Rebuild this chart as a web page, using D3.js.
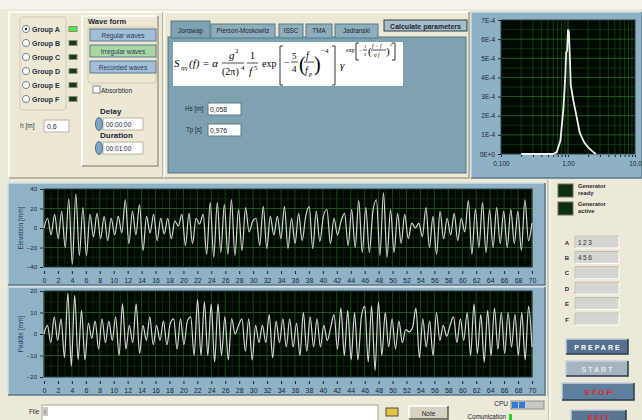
<!DOCTYPE html>
<html>
<head>
<meta charset="utf-8">
<title>Wave generator panel</title>
<script src="https://cdn.jsdelivr.net/npm/d3@7"></script>
<style>
  body { margin: 0; background: #ece9d8; overflow: hidden; }
  svg text { font-family: "Liberation Sans", Arial, sans-serif; }
</style>
</head>
<body>
<div id="panel"></div>
<script>
// values
var groups = ["Group A", "Group B", "Group C", "Group D", "Group E", "Group F"];
var groupLed = [1, 0, 0, 0, 0, 0];
var waveForms = ["Regular waves", "Irregular waves", "Recorded waves"];
var waveFormOn = [0, 1, 0];
var tabs = ["Jonswap", "Pierson-Moskowitz", "ISSC", "TMA", "Jadranski"];
var depth = "0,6", delay = "00:00:00", duration = "00:01:00";
var hs = "0,058", tp = "0,976";

// spectrum (f in Hz, S in 1E-4)
var specFreq = [0.2, 0.4, 0.6, 0.68, 0.77, 0.85, 0.91, 0.94, 0.97, 1.0, 1.03, 1.06, 1.1, 1.2, 1.3, 1.5, 1.75, 2.0, 2.3, 2.6];
var specVal = [0, 0, 0, 0.1, 0.7, 2.3, 4.0, 5.3, 5.4, 6.5, 6.4, 5.3, 3.6, 2.8, 2.2, 1.1, 0.6, 0.35, 0.15, 0];
var specYTicks = [0, 1, 2, 3, 4, 5, 6, 7];
var specYLabels = ["0E+0", "1E-4", "2E-4", "3E-4", "4E-4", "5E-4", "6E-4", "7E-4"];
var specXTicks = [0.1, 1, 10];
var specXLabels = ["0,100", "1,00", "10,0"];

// time series (mm), evenly spread over 0..70 s
var timeTicks = [0, 2, 4, 6, 8, 10, 12, 14, 16, 18, 20, 22, 24, 26, 28, 30, 32, 34, 36, 38, 40, 42, 44, 46, 48, 50, 52, 54, 56, 58, 60, 62, 64, 66, 68, 70];
var elevTicks = [-40, -20, 0, 20, 40];
var paddleTicks = [-20, -10, 0, 10, 20];
var elevation = [0, 10, -7, 14, -11, 17, -20, 30, -37, 35, -28, 21, -28, 14, -9, 15, -11, 12, -13, 10,
  -7, 12, -5, 29, -16, 17, -7, 24, -23, 12, -5, 14, -13, 10, -6, 10, -11, 7, 2, 14,
  -18, 15, -16, 10, 4, 14, -27, 26, -30, 26, -25, 24, -27, 29, -28, 19, -23, 21, -4, 7,
  10, -18, 22, -21, 12, -7, 12, -11, 22, -21, 10,
  -16, 15, -13, 12, 22, -21, 17, -14, 12, 19, -16, 10, -7, 7, 15, -18, 19, -20, 28,
  -25, 21, -25, 17, 29, -28, 36, -30, 19, -25, 15, -16, 14, -11, 5, 0, 5, -9, 21, -20,
  12, -27, 17, -11, 10, -7, 15, -13, 10, -4, 28, -27, 19, -20, 26, -25, 19, -20, 21, -16,
  17, -20, 19, -16, 17, -23, 29, -13, 5];
var paddle = [0, 4, -4, 8, -3, 7, -11, 19, -15, 18, -12, 11, -12, 5, -2, 6, -7, 7, -4, 6,
  -3, 8, -10, 14, -7, 4, -4, 14, -9, 4, -3, 8, -5, 4, -3, 6, -5, 5, 7, -7,
  7, -5, 6, 8, -10, 16, -10, 15, -10, 14, -13, 14, -10, 8, -12, 7, 0, 4, 7, -8,
  7, -12, 4, -4, 4, -4, 9, -11, 6, -4,
  7, -6, 7, -6, 5, -10, 10, -8, 8, -6, 7, -6, 4, -3, 3, 9, -7, 12, -10, 11,
  -12, 10, -12, 8, 13, -13, 13, -17, 15, -10, 10, -6, 7, -7, 6, -4, 2, 1, 3, 12,
  -11, 7, -6, 6, -10, 10, -3, 4, -1, 4, 8, -4, 7, -3, 10, -10, 14, -9, 9, -13,
  11, -10, 12, -7, 10, -9, 10, -6, 9, -10, 10, -12, 13, -6];

var channels = ["A", "B", "C", "D", "E", "F"];
var channelValues = ["123", "456", "", "", "", ""];
var buttons = ["PREPARE", "START", "STOP", "EXIT"];

var W = 642, H = 420;
var svg = d3.select("#panel").append("svg").attr("width", W).attr("height", H);

function box(x, y, w, h, fill, stroke) {
  return svg.append("rect").attr("x", x).attr("y", y).attr("width", w).attr("height", h)
    .attr("fill", fill).attr("stroke", stroke || "none");
}
// 3d-ish frame: light edge top/left, dark edge bottom/right
function frame(x, y, w, h, fill, light, dark) {
  box(x, y, w, h, fill);
  svg.append("path").attr("d", "M" + x + "," + (y + h) + "V" + y + "H" + (x + w))
    .attr("fill", "none").attr("stroke", light).attr("stroke-width", 1.5);
  svg.append("path").attr("d", "M" + (x + w) + "," + y + "V" + (y + h) + "H" + x)
    .attr("fill", "none").attr("stroke", dark).attr("stroke-width", 1.5);
}
function txt(s, x, y, size, opt) {
  opt = opt || {};
  var t = svg.append("text").attr("x", x).attr("y", y).text(s)
    .attr("font-size", size).attr("fill", opt.fill || "#1c2434");
  if (opt.bold) t.attr("font-weight", "bold");
  if (opt.anchor) t.attr("text-anchor", opt.anchor);
  if (opt.family) t.style("font-family", opt.family);
  if (opt.italic) t.attr("font-style", "italic");
  if (opt.spacing) t.attr("letter-spacing", opt.spacing);
  return t;
}

// background
box(0, 0, W, H, "#ece9d8");
box(0, 0, W, 9, "#f5f3ea");

// ---------- top left: groups ----------
frame(9, 12, 154, 166, "#ece8d4", "#ffffff", "#a8a490");
svg.append("rect").attr("x", 20).attr("y", 17).attr("width", 46).attr("height", 93).attr("rx", 3)
  .attr("fill", "none").attr("stroke", "#cfcab4");
groups.forEach(function(g, i) {
  var cy = 29 + i * 14;
  svg.append("circle").attr("cx", 26).attr("cy", cy).attr("r", 3.6)
    .attr("fill", "#f8f8f4").attr("stroke", "#6c86a0");
  if (i === 0) svg.append("circle").attr("cx", 26).attr("cy", cy).attr("r", 1.2).attr("fill", "#203050");
  txt(g, 32, cy + 2.5, 7, { bold: true, fill: "#283040" });
  box(69, cy - 2.5, 8, 5, groupLed[i] ? "#4ee84e" : "#123e12", "#8a8a78");
});
txt("h [m]", 20, 128, 6.5, { fill: "#283040" });
box(44, 120, 25, 12, "#ffffff", "#b8b4a0");
txt(depth, 47, 129, 7);

// wave form block
frame(82, 16, 76, 150, "#ece8d4", "#ffffff", "#9e9a86");
txt("Wave form", 88, 24, 7.5, { bold: true });
svg.append("rect").attr("x", 88).attr("y", 27).attr("width", 68).attr("height", 56).attr("rx", 3)
  .attr("fill", "none").attr("stroke", "#cfcab4");
waveForms.forEach(function(w, i) {
  var y = 29 + i * 16;
  box(90, y, 66, 12, waveFormOn[i] ? "#a9d6a2" : "#a3bfd6", "#607890");
  txt(w, 123, y + 8.5, 6.5, { anchor: "middle", fill: "#2a3a60" });
});
box(93, 86, 7, 7, "#ffffff", "#7a8aa0");
txt("Absorbtion", 101, 92.5, 6.5);
txt("Delay", 100, 114, 8, { bold: true });
txt("Duration", 100, 138, 8, { bold: true });
[delay, duration].forEach(function(v, i) {
  var y = 118 + i * 24;
  box(103, y, 40, 12, "#ffffff", "#b8b4a0");
  svg.append("ellipse").attr("cx", 99).attr("cy", y + 6).attr("rx", 3.5).attr("ry", 6.5)
    .attr("fill", "#7fa6c8").attr("stroke", "#4a6a8a");
  txt(v, 106, y + 9, 6.5);
});

// ---------- tab control with formula ----------
frame(164, 12, 305, 166, "#ece8d4", "#ffffff", "#a8a490");
box(168, 37, 298, 136, "#7fa2b1", "#56788a");
var tabGeo = [[171, 39], [211, 64], [279, 24], [306, 26], [335, 43]];
tabs.forEach(function(t, i) {
  var sel = i === 0;
  box(tabGeo[i][0], sel ? 21 : 24, tabGeo[i][1], sel ? 17 : 14, sel ? "#7fa2b1" : "#8eaebb", "#56788a");
  txt(t, tabGeo[i][0] + tabGeo[i][1] / 2, 33, 6.3, { anchor: "middle", fill: "#1c2434" });
});
box(384, 20, 83, 11, "#a7bdc9", "#2c3c4c");
txt("Calculate parameters", 425.5, 28.5, 7, { bold: true, anchor: "middle" });

// formula
box(173, 42, 230, 44, "#ffffff");
var serif = "'Liberation Serif', 'DejaVu Serif', serif";
function ftxt(s, x, y, size, it) { return txt(s, x, y, size, { family: serif, italic: it, fill: "#000" }); }
function fline(x1, x2, y) {
  svg.append("line").attr("x1", x1).attr("x2", x2).attr("y1", y).attr("y2", y).attr("stroke", "#000").attr("stroke-width", 0.7);
}
function bracket(x, y1, y2, dir) {
  svg.append("path").attr("d", "M" + (x + 3 * dir) + "," + y1 + "H" + x + "V" + y2 + "H" + (x + 3 * dir))
    .attr("fill", "none").attr("stroke", "#000").attr("stroke-width", 0.8);
}
ftxt("S", 174, 67, 11, true);
ftxt("ηη", 181, 70, 6.5, true);
ftxt("(f) = α", 189, 67, 11, true);
ftxt("g", 229, 59, 11, true); ftxt("2", 235, 53, 7, false);
fline(222, 244, 63);
ftxt("(2π)", 222, 75, 10, false); ftxt("4", 241, 70, 7, false);
ftxt("1", 250, 59, 10, false);
fline(247, 258, 63);
ftxt("f", 249, 75, 11, true); ftxt("5", 254, 70, 7, false);
ftxt("exp", 262, 67, 10, false);
bracket(280, 46, 85, 1);
ftxt("−", 284, 66, 10, false);
ftxt("5", 292, 59, 9, false); fline(291, 298, 62); ftxt("4", 292, 72, 9, false);
ftxt("(", 299, 71, 20, false);
ftxt("f", 306, 59, 10, true); fline(304, 314, 62); ftxt("f", 305, 74, 10, true); ftxt("p", 309, 76, 6, true);
ftxt(")", 314, 71, 20, false);
ftxt("−4", 321, 53, 7, false);
bracket(335, 46, 85, -1);
ftxt("γ", 340, 69, 11, true);
ftxt("exp", 346, 52, 6, false);
bracket(356, 43, 60, 1);
ftxt("−", 359, 52, 6, false);
ftxt("1", 364, 48, 5, false); fline(363, 367, 50); ftxt("2", 364, 56, 5, false);
ftxt("(", 368, 55, 11, false);
ftxt("f − f", 372, 48, 5.5, true); fline(371, 386, 50); ftxt("σ f", 374, 57, 5.5, true);
ftxt(")", 386, 55, 11, false);
ftxt("2", 390, 46, 5, false);
bracket(395, 43, 60, -1);

txt("Hs [m]", 185, 111, 6.3);
box(208, 103, 33, 12, "#ffffff", "#5a7a8a");
txt(hs, 210, 112, 6.8);
txt("Tp [s]", 186, 132, 6.3);
box(208, 124, 33, 12, "#ffffff", "#5a7a8a");
txt(tp, 210, 133, 6.8);

// ---------- spectrum graph ----------
frame(471, 12, 171, 166, "#8eb1c3", "#c8dce6", "#5a7a8c");
var sx = d3.scaleLog().domain([0.1, 10]).range([501, 635]);
var sy = d3.scaleLinear().domain([0, 7]).range([154, 20]);
box(501, 20, 134, 134, "#000a00", "#2c3c44");
var specGrid = svg.append("g");
[0.2, 0.3, 0.4, 0.5, 0.6, 0.7, 0.8, 0.9, 1, 2, 3, 4, 5, 6, 7, 8, 9].forEach(function(f) {
  specGrid.append("line").attr("x1", sx(f)).attr("x2", sx(f)).attr("y1", 20).attr("y2", 154)
    .attr("stroke", f === 1 ? "#2f7a2f" : "#164a16").attr("stroke-width", 0.8);
});
d3.range(0.5, 7, 0.5).forEach(function(v) {
  specGrid.append("line").attr("x1", 501).attr("x2", 635).attr("y1", sy(v)).attr("y2", sy(v))
    .attr("stroke", v % 1 === 0 ? "#2a6e2a" : "#123e12").attr("stroke-width", 0.8);
});
svg.append("path").datum(specFreq.map(function(f, i) { return [f, specVal[i]]; }))
  .attr("d", d3.line().x(function(d) { return sx(d[0]); }).y(function(d) { return sy(d[1]); }))
  .attr("fill", "none").attr("stroke", "#f0f0f0").attr("stroke-width", 1.8);
var sYAxis = svg.append("g").attr("transform", "translate(501,0)")
  .call(d3.axisLeft(sy).tickValues(specYTicks).tickSize(3).tickFormat(function(d, i) { return specYLabels[i]; }));
var sXAxis = svg.append("g").attr("transform", "translate(0,155)")
  .call(d3.axisBottom(sx).tickValues([0.1, 0.2, 0.3, 0.4, 0.5, 0.6, 0.7, 0.8, 0.9, 1, 2, 3, 4, 5, 6, 7, 8, 9, 10])
    .tickSize(2).tickFormat(function(d) { var k = specXTicks.indexOf(d); return k < 0 ? "" : specXLabels[k]; }));
[sYAxis, sXAxis].forEach(function(a) {
  a.select(".domain").remove();
  a.selectAll("line").attr("stroke", "#1c2434");
  a.selectAll("text").attr("font-size", 6.5).attr("fill", "#1c2434");
});
sXAxis.selectAll("text").attr("dy", "0.9em");

// ---------- time series graphs ----------
box(0, 179, 548, 3, "#ece9d8");
var tx = d3.scaleLinear().domain([0, 70]).range([44, 532]);
function waveGraph(top, frameH, plotTop, plotBot, domain, ticks, series, label) {
  frame(8, top, 537, frameH, "#8fb2c4", "#cfe0e8", "#5a7a8c");
  var y = d3.scaleLinear().domain(domain).range([plotBot, plotTop]);
  box(44, plotTop, 488, plotBot - plotTop, "#000900", "#2a3a44");
  var g = svg.append("g");
  d3.range(0, 71, 1).forEach(function(t) {
    g.append("line").attr("x1", tx(t)).attr("x2", tx(t)).attr("y1", plotTop).attr("y2", plotBot)
      .attr("stroke", t % 2 === 0 ? "#1d571d" : "#0f2f0f").attr("stroke-width", 0.8);
  });
  var step = (domain[1] - domain[0]) / 8;
  d3.range(domain[0] + step, domain[1], step).forEach(function(v, i) {
    g.append("line").attr("x1", 44).attr("x2", 532).attr("y1", y(v)).attr("y2", y(v))
      .attr("stroke", i % 2 === 1 ? "#236423" : "#0f2f0f").attr("stroke-width", 0.8);
  });
  var dt = 70 / (series.length - 1);
  svg.append("path").datum(series)
    .attr("d", d3.line().curve(d3.curveMonotoneX)
      .x(function(d, i) { return tx(i * dt); }).y(function(d) { return y(d); }))
    .attr("fill", "none").attr("stroke", "#d8d8d8").attr("stroke-width", 1.2);
  var ya = svg.append("g").attr("transform", "translate(43,0)")
    .call(d3.axisLeft(y).tickValues(ticks).tickSize(3));
  var xa = svg.append("g").attr("transform", "translate(0," + (plotBot + 4) + ")")
    .call(d3.axisBottom(tx).tickValues(timeTicks).tickSize(3));
  [ya, xa].forEach(function(a) {
    a.select(".domain").remove();
    a.selectAll("line").attr("stroke", "#1c2434");
    a.selectAll("text").attr("font-size", 7).attr("fill", "#1c2434");
  });
  ya.selectAll("text").attr("font-size", 6);
  xa.selectAll("text").attr("dy", "0.85em");
  txt(label, 0, 0, 6.5, { anchor: "middle", fill: "#25406a" })
    .attr("transform", "translate(23," + ((plotTop + plotBot) / 2) + ") rotate(-90)");
}
waveGraph(183, 102, 189, 267, [-40, 40], elevTicks, elevation, "Elevation [mm]");
waveGraph(287, 108, 291, 377, [-20, 20], paddleTicks, paddle, "Paddle  [mm]");

// ---------- right column ----------
box(548, 180, 94, 240, "#ece9d8");
svg.append("line").attr("x1", 548).attr("x2", 548).attr("y1", 180).attr("y2", 420).attr("stroke", "#b0ac98");
svg.append("line").attr("x1", 550).attr("x2", 550).attr("y1", 180).attr("y2", 420).attr("stroke", "#ffffff");
[["Generator", "ready"], ["Generator", "active"]].forEach(function(l, i) {
  var y = 184 + i * 18;
  box(558, y, 15, 13, "#0e2e0e", "#707060");
  txt(l[0], 578, y + 4, 5.8, { bold: true, fill: "#2a2a2a" });
  txt(l[1], 578, y + 11, 5.8, { bold: true, fill: "#2a2a2a" });
});
channels.forEach(function(c, i) {
  var y = 236 + i * 15.4;
  txt(c, 567, y + 8.5, 6, { bold: true, anchor: "middle", fill: "#2a2a2a" });
  box(575, y, 44, 12, "#d5d5d1", "#ffffff");
  svg.append("path").attr("d", "M575," + (y + 12) + "V" + y + "H619").attr("fill", "none").attr("stroke", "#b8b4a2");
  if (channelValues[i]) txt(channelValues[i], 578, y + 9, 6.5, { spacing: 1.5, fill: "#303030" });
});
var btnGeo = [[566, 339, 62, 15, "#55718f", "#ffffff"], [566, 361, 62, 15, "#a5b4bf", "#e4eaee"],
  [562, 383, 72, 17, "#5f7f9d", "#e82424"], [571, 410, 55, 14, "#5a7592", "#e82424"]];
buttons.forEach(function(b, i) {
  var g = btnGeo[i];
  frame(g[0], g[1], g[2], g[3], g[4], "#c4d2dc", "#2a3848");
  txt(b, g[0] + g[2] / 2 + 1, g[1] + g[3] / 2 + 3, i === 2 ? 8 : 7, { bold: true, anchor: "middle", fill: g[5], spacing: 2 });
});

// ---------- bottom bar ----------
box(0, 396, 548, 24, "#ece9d8");
txt("File", 29, 414, 6.3, { fill: "#2a2a2a" });
box(42, 405, 336, 16, "#ffffff", "#a8a490");
box(43, 407, 5, 9, "#c8c8c0");
txt("\\", 44, 414, 6, { fill: "#333" });
box(386, 408, 12, 8, "#e4c44a", "#5a5030");
frame(409, 406, 39, 13, "#d6d2c0", "#ffffff", "#5a5a50");
txt("Note", 428.5, 415.5, 6.5, { anchor: "middle" });
txt("CPU", 508, 406, 6.5, { anchor: "end" });
box(511, 401, 33, 8, "#c8c8c4", "#909088");
box(512, 402, 6, 6, "#2f7bd8");
box(519, 402, 6, 6, "#2f7bd8");
txt("Comunication", 506, 419, 6.3, { anchor: "end" });
box(509, 414, 3, 6, "#2ad02a");
</script>
</body>
</html>
